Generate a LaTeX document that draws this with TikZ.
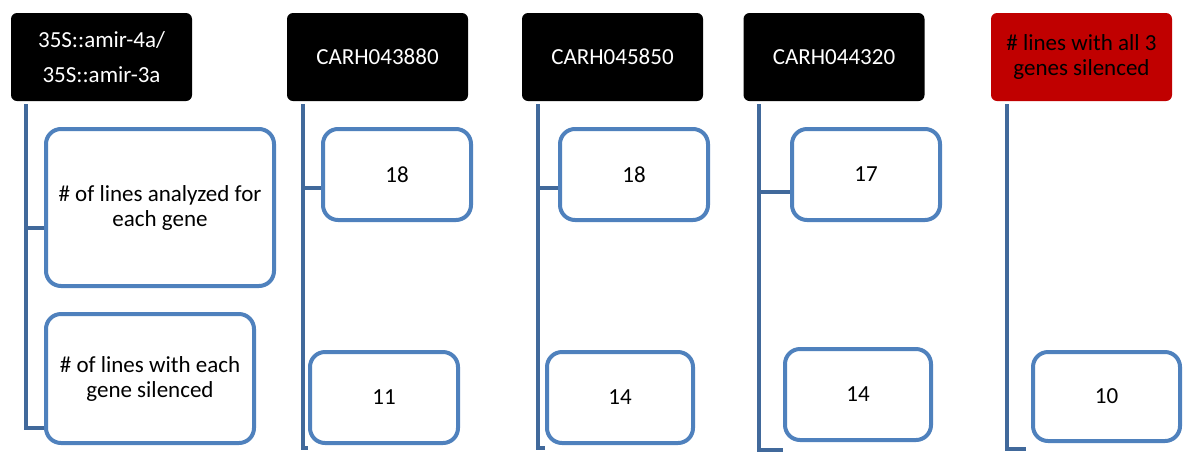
\documentclass[tikz,border=0pt]{standalone}
\usepackage{fontspec}
\setmainfont{Carlito}
\definecolor{trunkblue}{HTML}{41699B}
\definecolor{boxblue}{HTML}{4F81BD}
\definecolor{headred}{HTML}{C00000}
\begin{document}
\begin{tikzpicture}[x=1pt,y=-1pt,
  head/.style={fill=black,text=white,rounded corners=6pt,inner sep=0pt,
    minimum width=181pt,minimum height=88pt,align=center,
    font=\fontsize{23}{25}\selectfont},
  redhead/.style={head,fill=headred,text=black},
  databox/.style={draw=boxblue,line width=4pt,fill=white,rounded corners=15pt,
    inner sep=0pt,align=center,font=\fontsize{23}{25}\selectfont},
  valbox/.style={databox,minimum width=148pt,minimum height=91pt},
  trunk/.style={draw=trunkblue,line width=4pt}]
\useasboundingbox (0,0) rectangle (1190,451);

% header row
\node[head] (h1) at (101.5,57) {35S::amir-4a/\\[10pt]35S::amir-3a};
\node[head] (h2) at (377.5,57) {CARH043880};
\node[head] (h3) at (612.5,57) {CARH045850};
\node[head] (h4) at (834,57) {CARH044320};
\node[redhead] (h5) at (1081.5,57) {\# lines with all 3\\genes silenced};

% row labels
\node[databox,minimum width=228pt,minimum height=157pt] (b1a) at (160,207.5)
  {\# of lines analyzed for\\each gene};
\node[databox,minimum width=208pt,minimum height=129pt] (b1b) at (150,378.5)
  {\# of lines with each\\gene silenced};

% counts
\node[valbox] (b2a) at (397,174.5) {18};
\node[valbox] (b2b) at (384,397.5) {11};
\node[valbox] (b3a) at (634,174.5) {18};
\node[valbox,minimum width=146pt] (b3b) at (620,397.5) {14};
\node[valbox] (b4a) at (866,174.5) {17};
\node[valbox,minimum width=146pt] (b4b) at (858,394.5) {14};
\node[valbox,minimum width=147pt,minimum height=89pt] (b5b) at (1106.5,396.5) {10};

% connectors
\coordinate (t1) at ([xshift=15pt,yshift=-3pt]h1.south west);
\coordinate (t2) at ([xshift=16pt,yshift=-3pt]h2.south west);
\coordinate (t3) at ([xshift=16pt,yshift=-3pt]h3.south west);
\coordinate (t4) at ([xshift=16pt,yshift=-3pt]h4.south west);
\coordinate (t5) at ([xshift=16pt,yshift=-3pt]h5.south west);

\begin{scope}[on background layer/.try]
\path[trunk] (t1) |- ([yshift=-49.5pt]b1b.west);
\path[trunk] (t1) |- ([yshift=-20.5pt]b1a.west);
\path[trunk] (t2) |- ([yshift=-50.5pt]b2b.west);
\path[trunk] (t2) |- ([yshift=-13.5pt]b2a.west);
\path[trunk] (t3) |- ([yshift=-50.5pt]b3b.west);
\path[trunk] (t3) |- ([yshift=-13.5pt]b3a.west);
\path[trunk] (t4) |- ([yshift=-55.5pt]b4b.west);
\path[trunk] (t4) |- ([yshift=-17.5pt]b4a.west);
\path[trunk] (t5) |- ([yshift=-52.5pt,xshift=-5pt]b5b.west);
\end{scope}
\end{tikzpicture}
\end{document}
